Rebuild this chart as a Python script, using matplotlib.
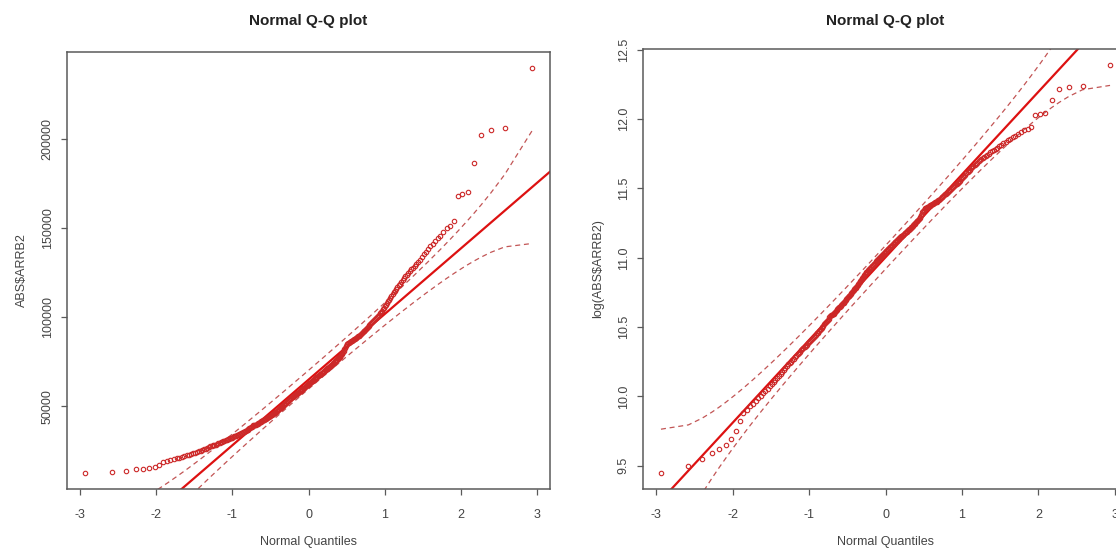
import numpy as np
import matplotlib.pyplot as plt
from statistics import NormalDist

plt.rcParams['font.family'] = ['Liberation Sans', 'DejaVu Sans']

# sorted ABS$ARRB2 sample (n = 300)
arrb2 = [
    12700, 13300, 14000, 14600, 15100, 15500, 16200, 17200, 18500, 19500,
    20000, 20500, 20900, 21300, 21700, 22100, 22500, 22900, 23300, 23700,
    24100, 24400, 24700, 25100, 25500, 25800, 26200, 26600, 27000, 27500,
    27800, 28100, 28300, 28600, 28900, 29200, 29500, 29800, 30100, 30400,
    30700, 31000, 31200, 31500, 31700, 32000, 32300, 32500, 32800, 33100,
    33400, 33600, 33900, 34100, 34400, 34700, 34900, 35200, 35500, 35800,
    36100, 36400, 36700, 37000, 37300, 37600, 37900, 38200, 38600, 39000,
    39300, 39500, 39700, 39800, 40000, 40200, 40500, 40800, 41100, 41400,
    41700, 41900, 42100, 42400, 42600, 42800, 43100, 43300, 43600, 43900,
    44200, 44500, 44800, 45000, 45300, 45600, 45900, 46200, 46500, 46800,
    47100, 47400, 47700, 48000, 48300, 48600, 48900, 49300, 49600, 50000,
    50400, 50700, 51100, 51400, 51800, 52100, 52500, 52800, 53200, 53600,
    53900, 54200, 54500, 54800, 55100, 55400, 55700, 56000, 56300, 56600,
    56900, 57100, 57400, 57700, 58000, 58300, 58600, 58900, 59200, 59500,
    59800, 60100, 60400, 60600, 60900, 61200, 61500, 61800, 62100, 62400,
    62700, 63000, 63300, 63600, 63900, 64200, 64500, 64800, 65100, 65400,
    65700, 66000, 66300, 66600, 66900, 67200, 67500, 67800, 68100, 68400,
    68700, 69000, 69300, 69600, 69900, 70200, 70500, 70800, 71100, 71400,
    71700, 72000, 72300, 72600, 72900, 73200, 73500, 73800, 74200, 74600,
    75000, 75400, 75800, 76200, 76600, 77000, 77400, 77800, 78300, 78800,
    79300, 79900, 80600, 81300, 82100, 83000, 84000, 84800, 85200, 85500,
    85700, 86000, 86300, 86600, 86900, 87200, 87500, 87800, 88100, 88400,
    88700, 89000, 89300, 89600, 89800, 90100, 90600, 91100, 91600, 92100,
    92600, 93100, 93600, 94100, 94600, 95100, 95600, 96100, 96700, 97300,
    97900, 98500, 99100, 99700, 100300, 100900, 101600, 102300, 103000, 103700,
    104500, 105400, 106300, 107200, 108100, 109000, 110000, 111000, 112000, 113000,
    114000, 115000, 116000, 117000, 118000, 119000, 120000, 121000, 122000, 123000,
    124000, 125000, 126000, 127000, 128000, 129000, 130000, 131000, 132500, 134000,
    135500, 137000, 138500, 140000, 141500, 143000, 144500, 146000, 148000, 150000,
    151500, 154000, 168000, 169500, 170300, 187000, 202500, 205000, 206500, 240000,
]

title = "Normal Q-Q plot"
x_label = "Normal Quantiles"
x_ticks = [-3, -2, -1, 0, 1, 2, 3]
left_ylabel = "ABS$ARRB2"
left_yticks = [50000, 100000, 150000, 200000]
right_ylabel = "log(ABS$ARRB2)"
right_yticks = [9.5, 10.0, 10.5, 11.0, 11.5, 12.0, 12.5]

POINT_COL = "#cc2828"
LINE_COL = "#dd1111"
ENV_COL = "#c25555"
FRAME_COL = "#5a5a5a"
TEXT_COL = "#444444"


def r_range(v):
    # R default axis extension of 4% on each side
    lo, hi = np.min(v), np.max(v)
    d = (hi - lo) * 0.04
    return lo - d, hi + d


def qq_panel(ax, values, yticks, ylabel, yfmt):
    nd = NormalDist()
    y = np.sort(np.asarray(values, dtype=float))
    n = len(y)
    P = (np.arange(1, n + 1) - 0.5) / n
    z = np.array([nd.inv_cdf(p) for p in P])

    # line through the quartiles, plus 95% pointwise envelope (car::qqPlot)
    q1, q3 = np.quantile(y, [0.25, 0.75])
    b = (q3 - q1) / (nd.inv_cdf(0.75) - nd.inv_cdf(0.25))
    a = q1 - b * nd.inv_cdf(0.25)
    dens = np.array([nd.pdf(v) for v in z])
    se = (b / dens) * np.sqrt(P * (1 - P) / n)
    zz = nd.inv_cdf(0.975)
    fit = a + b * z

    ax.plot(z, y, "o", mfc="none", mec=POINT_COL, mew=0.8, ms=3.2, zorder=3)
    ax.axline((0, a), slope=b, color=LINE_COL, lw=1.6, zorder=2)
    ax.plot(z, fit + zz * se, color=ENV_COL, lw=0.9, dashes=(4, 3), zorder=2)
    ax.plot(z, fit - zz * se, color=ENV_COL, lw=0.9, dashes=(4, 3), zorder=2)

    ax.set_xlim(*r_range(z))
    ax.set_ylim(*r_range(y))
    ax.set_xticks(x_ticks)
    ax.set_xticklabels([str(t) for t in x_ticks])
    ax.set_yticks(yticks)
    ax.set_yticklabels([yfmt(t) for t in yticks])
    for lab in ax.get_yticklabels():
        lab.set_rotation(90)
        lab.set_va("center")

    ax.tick_params(direction="out", length=4.5, width=0.9, color=FRAME_COL,
                   labelsize=9, labelcolor=TEXT_COL)
    ax.tick_params(axis="x", pad=10)
    ax.tick_params(axis="y", pad=5)
    for s in ax.spines.values():
        s.set_color(FRAME_COL)
        s.set_linewidth(1.1)
    ax.set_xlabel(x_label, fontsize=9, color=TEXT_COL, labelpad=11)
    ax.set_ylabel(ylabel, fontsize=9, color=TEXT_COL, labelpad=10)


W, H = 1116, 551
fig = plt.figure(figsize=(W / 100, H / 100), dpi=100)

ax1 = fig.add_axes([67 / W, (H - 489) / H, 483 / W, 437 / H])
ax2 = fig.add_axes([643 / W, (H - 489) / H, 485 / W, 440 / H])

qq_panel(ax1, arrb2, left_yticks, left_ylabel, lambda t: f"{int(t)}")
qq_panel(ax2, np.log(arrb2), right_yticks, right_ylabel, lambda t: f"{t:.1f}")

fig.text((67 + 550) / 2 / W, 1 - 21 / H, title, ha="center", va="center",
         fontsize=11, fontweight="bold", color="#222222")
fig.text((643 + 1128) / 2 / W, 1 - 21 / H, title, ha="center", va="center",
         fontsize=11, fontweight="bold", color="#222222")

fig.savefig("out.png", dpi=100)
